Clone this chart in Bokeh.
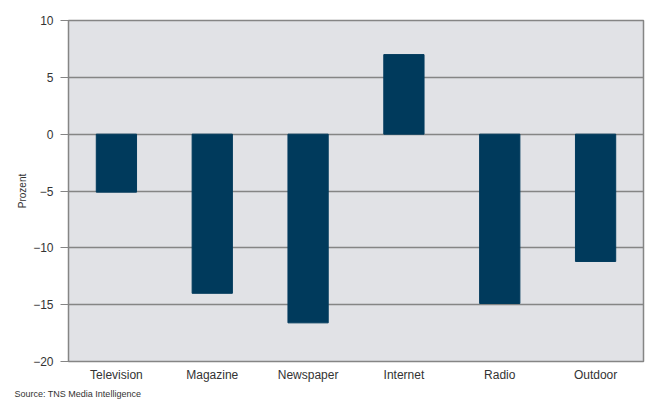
from bokeh.plotting import figure
from bokeh.models import Title, FixedTicker, ColumnDataSource, Range1d
from bokeh.embed import file_html
from bokeh.resources import INLINE

# Change in ad spending by medium, percent
media = ["Television", "Magazine", "Newspaper", "Internet", "Radio", "Outdoor"]
change = [-5.1, -14.0, -16.6, 7.0, -14.9, -11.2]
y_ticks = [-20, -15, -10, -5, 0, 5, 10]

FONT = "Liberation Sans"
TEXT = "#333333"
BAR = "#003a5c"
GRID = "#858585"

source = ColumnDataSource(dict(media=media, change=change))

p = figure(
    x_range=media,
    y_range=Range1d(-20, 10),
    width=645,
    height=401,
    output_backend="svg",
    toolbar_location=None,
    min_border_left=68,
    min_border_right=2,
    min_border_top=20,
    min_border_bottom=0,
)

p.vbar(x="media", top="change", bottom=0, width=0.42, source=source,
       fill_color=BAR, line_color=BAR)

p.background_fill_color = "#e1e2e6"
p.border_fill_color = "white"
p.outline_line_color = GRID
p.outline_line_width = 1.5
p.x_range.range_padding = 0

p.xgrid.grid_line_color = None
p.ygrid.grid_line_color = GRID
p.ygrid.grid_line_width = 1.5

p.yaxis.ticker = FixedTicker(ticks=y_ticks)
p.yaxis.axis_label = "Prozent"
p.yaxis.axis_label_text_font = FONT
p.yaxis.axis_label_text_font_size = "10px"
p.yaxis.axis_label_text_font_style = "normal"
p.yaxis.axis_label_text_color = TEXT
p.yaxis.axis_label_standoff = 2
p.yaxis.major_label_text_font = FONT
p.yaxis.major_label_text_font_size = "12px"
p.yaxis.major_label_text_color = TEXT
p.yaxis.major_tick_in = 0
p.yaxis.major_tick_out = 8
p.yaxis.minor_tick_line_color = None
p.yaxis.axis_line_color = GRID
p.yaxis.major_tick_line_color = GRID
p.yaxis.major_label_standoff = 7

p.xaxis.major_label_text_font = FONT
p.xaxis.major_label_text_font_size = "12px"
p.xaxis.major_label_text_color = TEXT
p.xaxis.major_tick_line_color = None
p.xaxis.axis_line_color = GRID
p.xaxis.major_label_standoff = 0

# source note under the x axis
p.add_layout(Title(text="Source:  TNS Media Intelligence", align="left",
                   offset=-54, standoff=5, text_font=FONT,
                   text_font_size="9px", text_font_style="normal",
                   text_color=TEXT), "below")

open("out.html", "w").write(file_html(p, INLINE))
